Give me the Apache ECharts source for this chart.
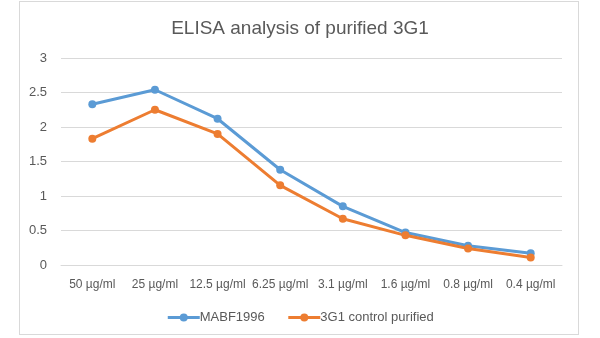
<!DOCTYPE html>
<html><head><meta charset="utf-8">
<script src="https://cdn.jsdelivr.net/npm/echarts@6/dist/echarts.min.js"></script>
<style>html,body{margin:0;padding:0;background:#fff}#frame{position:absolute;left:19px;top:1px;width:560px;height:334px;border:1px solid #d9d9d9;box-sizing:border-box}#c{position:absolute;left:0;top:0;width:600px;height:338px}</style>
</head><body><div id="frame"></div><div id="c"></div>
<script>
var categories = ["50 µg/ml","25 µg/ml","12.5 µg/ml","6.25 µg/ml","3.1 µg/ml","1.6 µg/ml","0.8 µg/ml","0.4 µg/ml"];
var mabf1996 = [2.33, 2.54, 2.12, 1.38, 0.85, 0.47, 0.28, 0.17];
var control3G1 = [1.83, 2.25, 1.90, 1.155, 0.67, 0.43, 0.24, 0.11];
var yTicks = [0, 0.5, 1, 1.5, 2, 2.5, 3];

var font = "Liberation Sans";
var chart = echarts.init(document.getElementById('c'), null, {renderer:'canvas'});
chart.setOption({
  animation:false,
  title:{text:"ELISA analysis of purified 3G1",left:'center',top:14,textStyle:{fontFamily:font,fontSize:19,fontWeight:'normal',color:'#595959'}},
  grid:{left:61,right:38,top:58,bottom:73},
  legend:{bottom:9,left:'center',itemWidth:32,itemHeight:10,itemGap:22,
    lineStyle:{width:3},
    textStyle:{fontFamily:font,fontSize:13,color:'#595959',padding:[0,0,0,-5]},
    data:['MABF1996','3G1 control purified']},
  xAxis:{type:'category',data:categories,boundaryGap:true,
    axisLine:{lineStyle:{color:'#d9d9d9'}},axisTick:{show:false},
    axisLabel:{interval:0,fontFamily:font,fontSize:12,color:'#595959',margin:14}},
  yAxis:{type:'value',min:yTicks[0],max:yTicks[yTicks.length-1],interval:0.5,
    axisLine:{show:false},axisTick:{show:false},
    axisLabel:{fontFamily:font,fontSize:13,color:'#595959',margin:14},
    splitLine:{lineStyle:{color:'#d9d9d9',width:1}}},
  series:[
    {name:'MABF1996',type:'line',data:mabf1996,symbol:'circle',symbolSize:8,
     lineStyle:{width:3,color:'#5B9BD5'},itemStyle:{color:'#5B9BD5'}},
    {name:'3G1 control purified',type:'line',data:control3G1,symbol:'circle',symbolSize:8,
     lineStyle:{width:3,color:'#ED7D31'},itemStyle:{color:'#ED7D31'}}
  ]
});
</script></body></html>
